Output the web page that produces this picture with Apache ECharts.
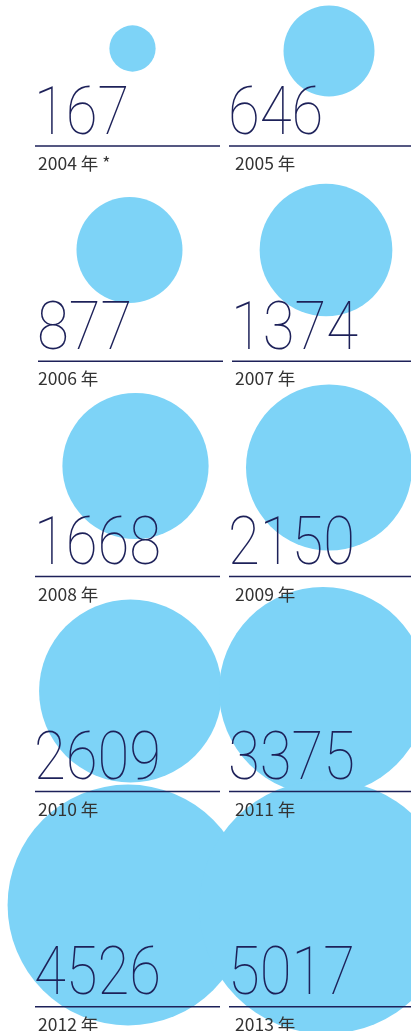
<!DOCTYPE html>
<html>
<head>
<meta charset="utf-8">
<script src="https://cdn.jsdelivr.net/npm/echarts@6/dist/echarts.min.js"></script>
<style>
html,body{margin:0;padding:0;background:#fff;}
#c{width:411px;height:1031px;}
</style>
</head>
<body>
<div id="c"></div>
<script>
// ---- data ----
var years = ['2004', '2005', '2006', '2007', '2008', '2009', '2010', '2011', '2012', '2013'];
var yearLabels = ['2004 年 *', '2005 年', '2006 年', '2007 年', '2008 年', '2009 年', '2010 年', '2011 年', '2012 年', '2013 年'];
var values = [167, 646, 877, 1374, 1668, 2150, 2609, 3375, 4526, 5017];
var columns = ['L', 'R'];
var rows = ['r0', 'r1', 'r2', 'r3', 'r4'];

// ---- layout / style (not data) ----
var K = 1.79;                 // radius per sqrt(value)
var circleColor = '#7dd3f7';
var navy = '#1d2159';
var colX = [35, 229];
var yearX = [38, 235];
var lineEnd = [220, 411];
var rowShift = [0, 3, 0, 0, 0];
var lineY0 = 146, rowStep = 215.2;
var offsets = [[2.5, 2.5], [2, 5], [-0.5, -11], [-1, -11], [5.5, -10], [2, -8.5], [0.5, 0], [-4, 0], [-2, -1], [-1, 1]];

var chart = echarts.init(document.getElementById('c'), null, {renderer: 'canvas'});

var scatterData = values.map(function (v, i) {
  return {
    value: [columns[i % 2], rows[Math.floor(i / 2)], v],
    symbolOffset: offsets[i]
  };
});

var graphics = [];
values.forEach(function (v, i) {
  var c = i % 2, r = Math.floor(i / 2);
  var x0 = colX[c] + rowShift[r];
  var ly = lineY0 + r * rowStep;
  graphics.push({
    type: 'line', z: 100,
    shape: {x1: x0, y1: ly, x2: lineEnd[c] + (c === 0 ? rowShift[r] : 0), y2: ly},
    style: {stroke: navy, lineWidth: 1.5}
  });
  graphics.push({
    type: 'text', z: 100,
    x: x0 - 1, y: ly + 4, scaleX: 0.88,
    style: {
      text: String(v), x: 0, y: 0,
      font: '100 66px Roboto',
      fill: navy, textAlign: 'left', verticalAlign: 'bottom'
    }
  });
  graphics.push({
    type: 'text', z: 100,
    x: yearX[c], y: ly + 17.5,
    style: {
      text: yearLabels[i], x: 0, y: 0,
      font: '17.5px "Noto Sans CJK JP"',
      fill: '#333333', textAlign: 'left', verticalAlign: 'middle'
    }
  });
});

chart.setOption({
  animation: false,
  backgroundColor: '#ffffff',
  grid: {left: 31.5, top: -61.5, width: 394, height: 1075, containLabel: false, outerBoundsMode: 'none'},
  xAxis: {type: 'category', data: columns, show: false, boundaryGap: true},
  yAxis: {type: 'category', data: rows, show: false, inverse: true, boundaryGap: true},
  series: [{
    type: 'scatter',
    data: scatterData,
    symbol: 'circle',
    symbolSize: function (d) { return 2 * K * Math.sqrt(d[2]); },
    itemStyle: {color: circleColor, opacity: 1},
    silent: true
  }],
  graphic: graphics
});
</script>
</body>
</html>
